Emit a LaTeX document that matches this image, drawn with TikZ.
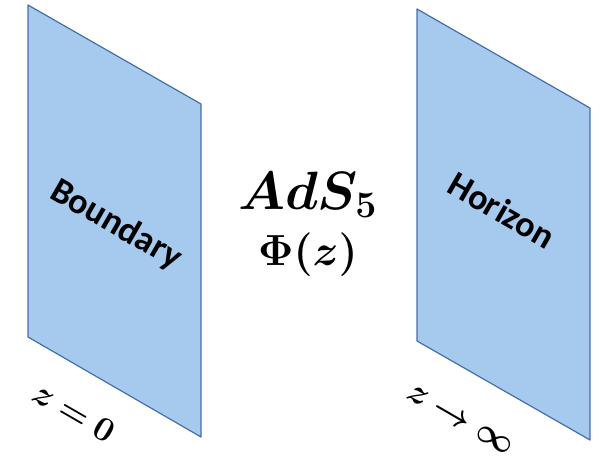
\documentclass[tikz,border=0pt]{standalone}
\usepackage{amsmath, amssymb, bm}
\usepackage{fontspec}
\newfontfamily\labelfont{Carlito}
\definecolor{planefill}{RGB}{166,201,238}
\definecolor{planeedge}{RGB}{72,110,170}

\begin{document}
\begin{tikzpicture}[x=1pt, y=1pt,
    plane/.style={fill=planefill, draw=planeedge, line width=1.2pt, line join=round},
    sheetlabel/.style={font=\labelfont\bfseries\fontsize{36}{40}\selectfont, rotate=-30},
    mathlabel/.style={font=\huge, transform shape, scale=#1},
    zlabel/.style={mathlabel=1.65, rotate=-30}]
    \useasboundingbox (0,0) rectangle (606,460);

    % the two planes
    \draw[plane] (28,455) -- (201,356) -- (201,23) -- (28,123) -- cycle;
    \draw[plane] (417,451) -- (590,352) -- (590,20) -- (417,119) -- cycle;

    \node[sheetlabel] (boundary) at (116,235) {Boundary};
    \node[sheetlabel] (horizon) at (502,250) {Horizon};

    % bulk in between
    \node[mathlabel=2.6] (ads) at (308,265) {$\bm{AdS_5}$};
    \node[mathlabel=2.1] (phi) at (308,205) {$\bm{\Phi(z)}$};

    \node[zlabel] (zzero) at (74,48) {$\bm{z=0}$};
    \node[zlabel] (zinf) at (460,40) {$\bm{z\to\infty}$};
  \end{tikzpicture}
\end{document}
